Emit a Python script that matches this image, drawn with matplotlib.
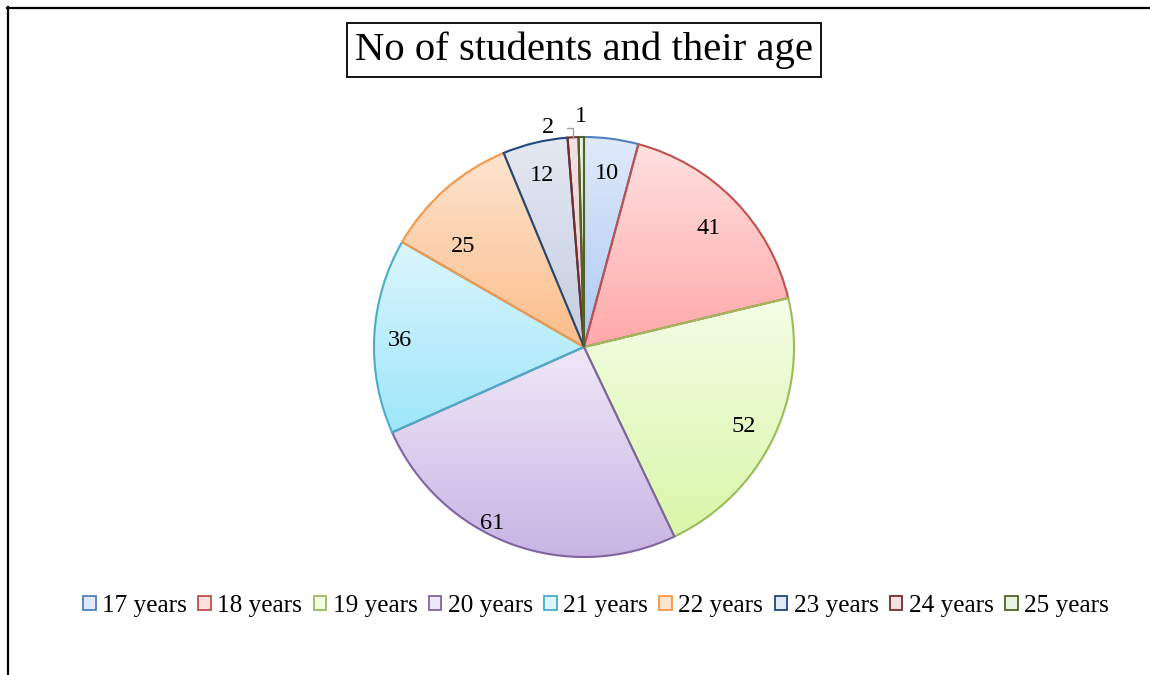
import numpy as np
import matplotlib
matplotlib.use("Agg")
import matplotlib.pyplot as plt
from matplotlib.patches import Patch
from matplotlib.lines import Line2D
from matplotlib.colors import LinearSegmentedColormap

# ---- data ----
categories = ["17 years", "18 years", "19 years", "20 years", "21 years",
              "22 years", "23 years", "24 years", "25 years"]
values = [10, 41, 52, 61, 36, 25, 12, 2, 1]
title = "No of students and their age"

# ---- style ----
edge_colors = ["#4F81BD", "#C0504D", "#9BBB59", "#8064A2", "#4BACC6",
               "#F79646", "#1F497D", "#772C2A", "#4F6228"]
top_colors = ["#e0eafa", "#ffe0e0", "#f4fde6", "#efe8f8", "#dcf6fd",
              "#fde4cf", "#e4e8f2", "#f4e2e2", "#eaf2e2"]
bottom_colors = ["#adc8f4", "#ffa8a8", "#d9f7a8", "#c8b4e4", "#9ee6fa",
                 "#fcbd8a", "#c4cde0", "#e6c8c8", "#d2e0c4"]
# label layout tweaks (radial distance, extra shift in axes data units)
label_r = [0.85, 0.83, 0.845, 0.84, 0.88, 0.84, 0.857]
label_shift = {3: (-0.148, -0.036), 5: (-0.02, -0.138)}

FONT = "Liberation Serif"
W, H = 1150, 675
fig = plt.figure(figsize=(W / 100, H / 100), dpi=100)
fig.patch.set_facecolor("white")

cx, cy, R = 584, 347, 210
ax = fig.add_axes([(cx - R) / W, (H - cy - R) / H, 2 * R / W, 2 * R / H])
wedges, _ = ax.pie(values, startangle=90, counterclock=False, radius=1,
                   wedgeprops=dict(linewidth=1.5))
ax.set_aspect("equal")
ax.axis("off")

grad = np.linspace(0, 1, 256).reshape(-1, 1)
for i, w in enumerate(wedges):
    w.set_edgecolor(edge_colors[i])
    w.set_facecolor("none")
    w.set_zorder(3)
    th = np.radians(np.linspace(w.theta1, w.theta2, 200))
    xs = np.concatenate([[0], np.cos(th)])
    ys = np.concatenate([[0], np.sin(th)])
    cmap = LinearSegmentedColormap.from_list("g%d" % i, [top_colors[i], bottom_colors[i]])
    im = ax.imshow(grad, cmap=cmap, aspect="auto", origin="upper",
                   extent=[xs.min(), xs.max(), ys.min(), ys.max()], zorder=2)
    im.set_clip_path(w)
ax.set_xlim(-1, 1)
ax.set_ylim(-1, 1)

LBL = 17.5
# ---- value labels ----
for i, w in enumerate(wedges):
    if values[i] < 5:
        continue
    mid = np.radians((w.theta1 + w.theta2) / 2)
    dx, dy = label_shift.get(i, (0.0, 0.0))
    ax.text(label_r[i] * np.cos(mid) + dx, label_r[i] * np.sin(mid) + dy - 0.015,
            str(values[i]), ha="center", va="center", fontsize=LBL, family=FONT, zorder=5)

# small slices: labels outside
w24 = wedges[7]
mid24 = np.radians((w24.theta1 + w24.theta2) / 2)
ax.annotate(str(values[7]), xy=(0.995 * np.cos(mid24), 0.995 * np.sin(mid24)),
            xytext=(-0.17, 1.045), ha="center", va="center", fontsize=LBL, family=FONT,
            arrowprops=dict(arrowstyle="-", color="#a0a0a0", lw=1,
                            connectionstyle="angle,angleA=0,angleB=90,rad=0",
                            shrinkA=7, shrinkB=0), zorder=5)
ax.text(-0.014, 1.1, str(values[8]), ha="center", va="center", fontsize=LBL,
        family=FONT, zorder=5)

# ---- title ----
fig.text(cx / W, 1 - 50 / H, title, ha="center", va="center", fontsize=29.3, family=FONT,
         bbox=dict(boxstyle="square,pad=0.19", facecolor="white", edgecolor="black", lw=1.3))

# ---- legend ----
handles = [Patch(facecolor=top_colors[i], edgecolor=edge_colors[i], lw=1.3) for i in range(len(categories))]
fig.legend(handles, categories, loc="center", bbox_to_anchor=(596 / W, 1 - 606 / H), ncol=9,
           frameon=False, prop=dict(family=FONT, size=18.2), handlelength=0.5, handleheight=0.5,
           handletextpad=0.25, columnspacing=0.45, borderpad=0)

# ---- outer frame (left and top edges visible) ----
fig.add_artist(Line2D([7.5 / W, 7.5 / W], [0, 1 - 7 / H], color="black", lw=1.6, transform=fig.transFigure))
fig.add_artist(Line2D([7 / W, 1], [1 - 7.5 / H, 1 - 7.5 / H], color="black", lw=1.6, transform=fig.transFigure))

fig.savefig("out.png", dpi=100)
